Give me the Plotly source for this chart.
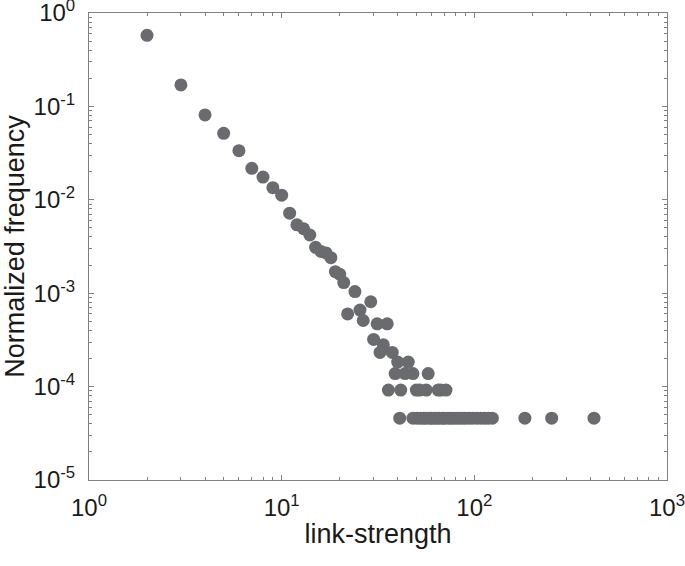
import plotly.graph_objects as go

# Data
link_strength = [
    2, 3, 4, 5, 6, 7, 8, 9, 10, 11, 12, 13, 14, 15, 16, 17, 18, 19, 20, 21,
    24, 29, 22, 25.5, 26.5, 31.3, 35.3, 30, 33.7, 32.4, 37.5, 40, 45.4,
    38.8, 43.7, 48, 57.6,
    35.8, 41.5, 50, 52, 56.3, 64.9, 67, 71.3,
    41, 48, 50.5, 52.5, 54.5, 56, 58.5, 60, 62, 64, 66, 68.5, 70, 73, 75.5,
    78, 81, 84, 87, 90, 94, 98, 103, 108, 113, 118, 124,
    183, 252, 418,
]
norm_freq = [
    0.577, 0.17, 0.081, 0.0515, 0.0336, 0.0217, 0.0175, 0.0135, 0.0112,
    0.0072, 0.0054, 0.0049, 0.0042, 0.0031, 0.0028, 0.0027, 0.0024, 0.0017,
    0.0016, 0.0013,
    0.00104, 0.00081, 0.0006, 0.00066, 0.00051, 0.00047, 0.00047,
    0.00032, 0.00028, 0.000232, 0.000232, 0.000183, 0.000183,
    0.000138, 0.000138, 0.000138, 0.000138,
    0.0000917, 0.0000917, 0.0000917, 0.0000917, 0.0000917, 0.0000917,
    0.0000917, 0.0000917,
    0.0000459, 0.0000459, 0.0000459, 0.0000459, 0.0000459, 0.0000459,
    0.0000459, 0.0000459, 0.0000459, 0.0000459, 0.0000459, 0.0000459,
    0.0000459, 0.0000459, 0.0000459,
    0.0000459, 0.0000459, 0.0000459, 0.0000459, 0.0000459, 0.0000459,
    0.0000459, 0.0000459, 0.0000459, 0.0000459, 0.0000459, 0.0000459,
    0.0000459, 0.0000459, 0.0000459,
]

x_tick_vals = [1, 10, 100, 1000]
x_tick_text = ["10<sup>0</sup>", "10<sup>1</sup>", "10<sup>2</sup>", "10<sup>3</sup>"]
y_tick_vals = [1e-5, 1e-4, 1e-3, 1e-2, 1e-1, 1]
y_tick_text = ["10<sup>-5</sup>", "10<sup>-4</sup>", "10<sup>-3</sup>",
               "10<sup>-2</sup>", "10<sup>-1</sup>", "10<sup>0</sup>"]

x_minor = [m * 10 ** d for d in range(0, 3) for m in range(2, 10)]
y_minor = [m * 10.0 ** d for d in range(-5, 0) for m in range(2, 10)]

axis_color = "#808080"
text_color = "#1a1a1a"
font_family = "Liberation Sans, Arial, Helvetica, sans-serif"

fig = go.Figure()
fig.add_trace(go.Scatter(
    x=link_strength, y=norm_freq, mode="markers",
    marker=dict(size=13, color="#6a6b6f", line=dict(width=0)),
    showlegend=False, cliponaxis=False,
))

common = dict(
    showline=True, linecolor=axis_color, linewidth=1, mirror="allticks",
    ticks="inside", ticklen=5, tickcolor=axis_color, tickwidth=1,
    showgrid=False, zeroline=False, automargin=False,
    ticklabeloverflow="allow",
    tickfont=dict(size=24, color=text_color, family=font_family),
)

fig.update_xaxes(
    type="log", range=[0, 3], tickmode="array",
    tickvals=x_tick_vals, ticktext=x_tick_text,
    minor=dict(tickmode="array", tickvals=x_minor, ticks="inside",
               ticklen=3, tickcolor=axis_color, showgrid=False),
    ticklabelstandoff=6,
    title=dict(text="link-strength", font=dict(size=27, color=text_color,
               family=font_family), standoff=4),
    **common,
)
fig.update_yaxes(
    type="log", range=[-5, 0], tickmode="array",
    tickvals=y_tick_vals, ticktext=y_tick_text,
    minor=dict(tickmode="array", tickvals=y_minor, ticks="inside",
               ticklen=3, tickcolor=axis_color, showgrid=False),
    ticklabelstandoff=8,
    title=dict(text="Normalized frequency", font=dict(size=27, color=text_color,
               family=font_family), standoff=2),
    **common,
)

fig.update_layout(
    width=685, height=566,
    margin=dict(l=89, r=18, t=13, b=86),
    paper_bgcolor="white", plot_bgcolor="white",
    font=dict(family=font_family, color=text_color),
)

fig.write_html("out.html",
               config={"displayModeBar": False, "staticPlot": True},
               post_script="document.body.style.margin='0px';document.body.style.overflow='hidden';")
